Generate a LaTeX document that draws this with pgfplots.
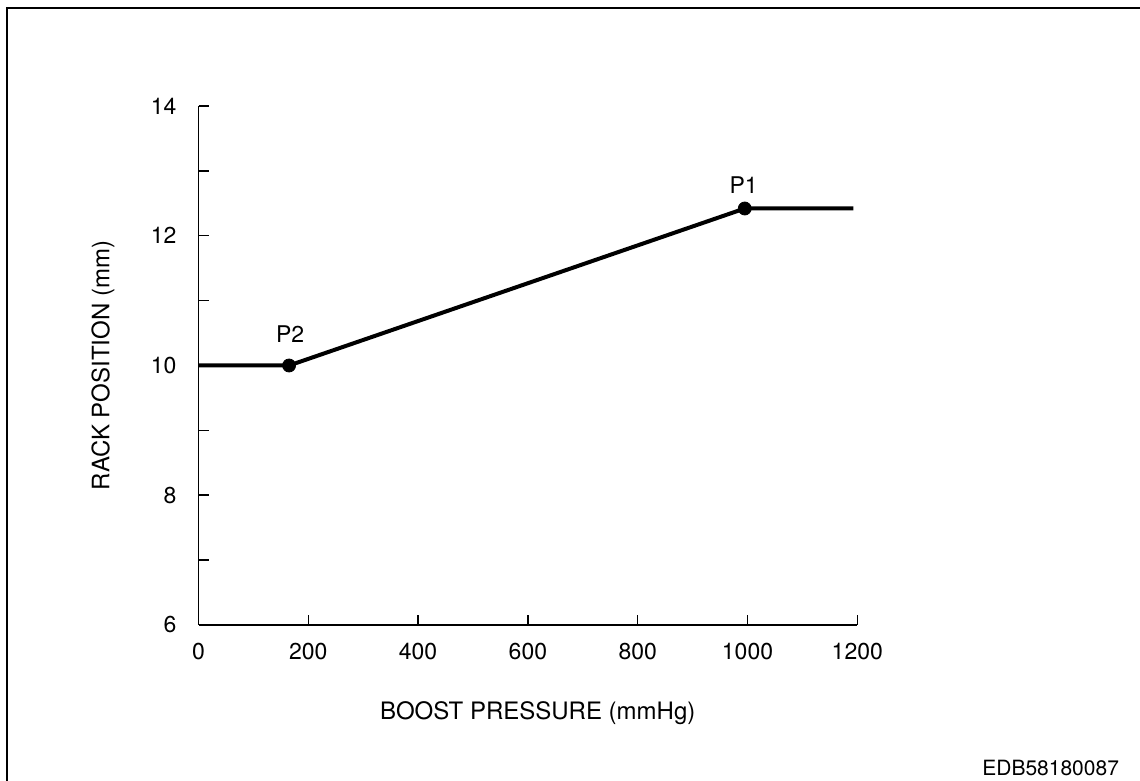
\documentclass[border=0pt]{standalone}
\usepackage{fontspec}
\setmainfont{TeX Gyre Heros}
\usepackage{pgfplots}
\pgfplotsset{compat=1.18}
\begin{document}
\fontsize{11.5}{13}\selectfont
\begin{tikzpicture}
\path[use as bounding box] (0,0) rectangle (570pt,390.5pt);
\draw[line width=1pt] (3.25pt,-1pt) -- (3.25pt,386.5pt) -- (571pt,386.5pt);
\begin{axis}[
  at={(99.25pt,78pt)}, anchor=south west,
  scale only axis, width=329.4pt, height=259.5pt,
  xmin=0, xmax=1200, ymin=6, ymax=14,
  axis x line=bottom, axis y line=left,
  axis line style={-, line width=0.75pt},
  xtick={0,200,...,1200}, ytick={6,8,...,14}, minor ytick={7,9,11,13},
  tick align=inside, major tick length=5pt, minor tick length=5pt,
  tick style={line width=0.75pt, black},
  /pgf/number format/assume math mode=true,
  /pgf/number format/1000 sep={},
  ticklabel style={font=\fontsize{11.5}{13}\selectfont},
  xticklabel style={yshift=-5pt},
  yticklabel style={xshift=-7pt},
  xlabel={BOOST PRESSURE (mmHg)},
  ylabel={RACK POSITION (mm)},
  xlabel style={at={(axis description cs:0.515,-0.1696)}, anchor=center, font=\fontsize{12}{14}\selectfont},
  ylabel style={at={(axis description cs:-0.145,0.5)}, anchor=center, font=\fontsize{12}{14}\selectfont},
  clip=false,
]
\addplot[black, line width=2pt] coordinates {(0,10) (165,10) (995,12.42) (1193,12.42)};
\addplot[black, only marks, mark=*, mark size=3.25pt] coordinates {(165,10) (995,12.42)};
\node[yshift=15.5pt] at (axis cs:167,10) {P2};
\node[yshift=11.5pt] at (axis cs:993,12.42) {P1};
\end{axis}
\node[anchor=east, font=\fontsize{10.5}{12}\selectfont] at (563.5pt,6.5pt) {EDB58180087};
\end{tikzpicture}
\end{document}
